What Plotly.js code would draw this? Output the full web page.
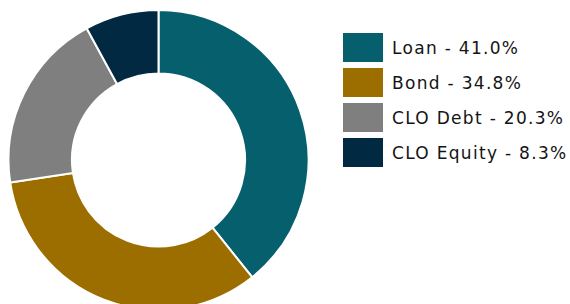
<!DOCTYPE html>
<html><head><meta charset="utf-8">
<script src="https://cdn.plot.ly/plotly-3.0.1.min.js"></script>
<style>html,body{margin:0;padding:0;overflow:hidden;background:#fff}#chart{width:570px;height:320px}</style>
</head><body><div id="chart"></div>
<script>
const categories = ["Loan", "Bond", "CLO Debt", "CLO Equity"];
const values = [41.0, 34.8, 20.3, 8.3];
const colors = ["#055F6D", "#9C6E00", "#7F7F7F", "#012A42"];

const W = 570, H = 320;
const px = x => x / W, py = y => 1 - y / H;

const shapes = [], annotations = [];
categories.forEach((c, i) => {
  const top = 33 + i * 35;
  shapes.push({type: "rect", xref: "paper", yref: "paper",
    x0: px(343), x1: px(383), y0: py(top), y1: py(top + 29),
    fillcolor: colors[i], line: {width: 0}});
  annotations.push({xref: "paper", yref: "paper", x: px(390), y: py(top + 14.5),
    xanchor: "left", yanchor: "middle", showarrow: false,
    text: "<span style='letter-spacing:1.3px'>" + c + " - " + values[i].toFixed(1) + "%</span>",
    font: {family: "DejaVu Sans, sans-serif", size: 17, color: "#141414"}});
});

Plotly.newPlot("chart", [{
  type: "pie", labels: categories, values: values, hole: 0.577,
  sort: false, direction: "clockwise", rotation: 0,
  marker: {colors: colors, line: {color: "#fff", width: 2}},
  textinfo: "none", hoverinfo: "label+percent",
  domain: {x: [px(8.5), px(308.5)], y: [py(310), py(10)]}
}], {
  width: W, height: H, margin: {l: 0, r: 0, t: 0, b: 0},
  showlegend: false, paper_bgcolor: "#fff",
  shapes: shapes, annotations: annotations
}, {displayModeBar: false, staticPlot: true});
</script></body></html>
